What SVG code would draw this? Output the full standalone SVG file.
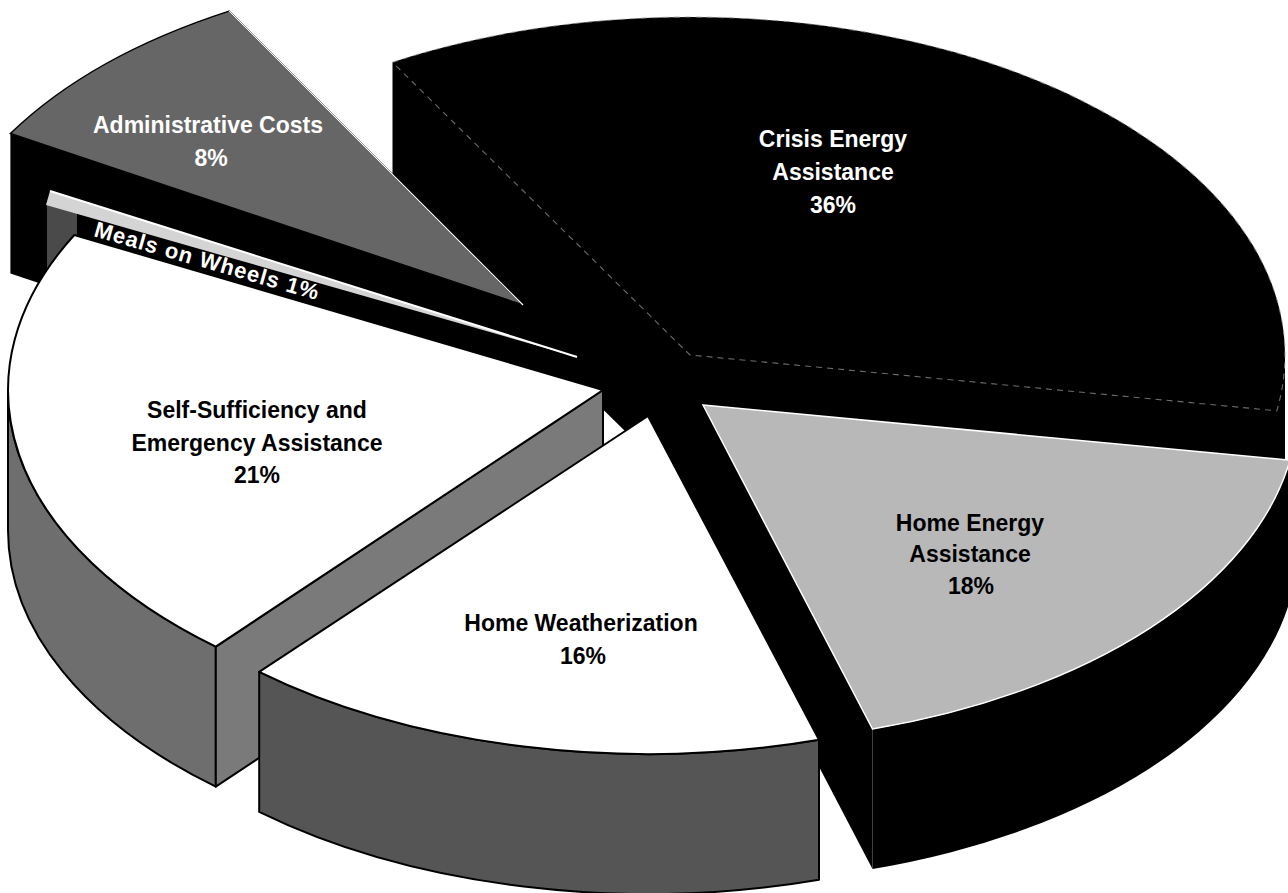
<svg xmlns="http://www.w3.org/2000/svg" width="1288" height="893" viewBox="0 0 1288 893">
<style>
.lbl{font-family:"Liberation Sans",Arial,Helvetica,sans-serif;font-weight:bold;font-size:23px;text-anchor:middle}
.w{fill:#fff}
.k{fill:#000}
.blk{fill:#000}
.edge{stroke:#000;stroke-width:2;stroke-linejoin:round}
</style>
<rect width="1288" height="893" fill="#fff"/>
<g id="slice-crisis">
<path class="blk" d="M392.5,62.3 A595,338 0 0 1 1285,355 L1285,495 A595,338 0 0 1 1276.8,550.8 L703,545 L690,495 L392.5,202.3 Z"/>
<path class="blk" d="M500,290 L690,350 L705,412 L640,420 L577,362 L520,352 Z"/>
<path d="M392.5,62.3 A595,338 0 0 1 1276.8,410.8 L690,355 Z" fill="none" stroke="#9a9a9a" stroke-width="1.1" stroke-dasharray="6 5" opacity="0.7"/>
<text class="lbl w" x="833" y="147">Crisis Energy</text>
<text class="lbl w" x="833" y="180">Assistance</text>
<text class="lbl w" x="833" y="213">36%</text>
</g>
<g id="slice-admin">
<path class="blk" d="M10.4,133.5 L523,305 L523,445 L10.4,273.5 Z"/>
<path fill="#666" stroke="#000" stroke-width="1.5" d="M523,305 L10.4,133.5 A595,338 0 0 1 229.1,11.1 Z"/>
<line x1="229.1" y1="11.1" x2="523" y2="305" stroke="#fff" stroke-width="1.2"/>
<text class="lbl w" x="208" y="133">Administrative Costs</text>
<text class="lbl w" x="211" y="166">8%</text>
</g>
<g id="slice-meals">
<path class="blk" d="M46,205 L577,358 L577,498 L46,345 Z"/>
<path fill="#4a4a4a" d="M47,203 L77,212 L77,300 L47,300 Z"/>
<path fill="#d4d4d4" d="M50,191 L577,357 L46,205 Z"/>
<line x1="50" y1="191" x2="577" y2="357" stroke="#fff" stroke-width="2"/>
<text class="lbl w" style="text-anchor:start;font-size:22px;letter-spacing:1px" transform="translate(93,236) rotate(16)">Meals on Wheels 1%</text>
</g>
<g id="slice-selfsufficiency">
<path fill="#6e6e6e" class="edge" d="M8,390 A595,338 0 0 0 215.8,646.6 L215.8,786.6 A595,338 0 0 1 8,530 Z"/>
<path fill="#7a7a7a" class="edge" d="M215.8,646.6 L603,390 L603,530 L215.8,786.6 Z"/>
<path fill="#fff" class="edge" d="M603,390 L74.3,235 A595,338 0 0 0 215.8,646.6 Z"/>
<text class="lbl k" x="257" y="418">Self-Sufficiency and</text>
<text class="lbl k" x="257" y="451">Emergency Assistance</text>
<text class="lbl k" x="257" y="483">21%</text>
</g>
<g id="slice-homeenergy">
<path class="blk" d="M703,405 L872.5,729 L872.5,869 L703,545 Z"/>
<path class="blk" d="M1290,460.2 A595,338 0 0 1 872.5,729 L872.5,869 A595,338 0 0 0 1290,600.2 Z"/>
<path fill="#b8b8b8" stroke="#fff" stroke-width="1.5" d="M703,405 L1290,460.2 A595,338 0 0 1 872.5,729 Z"/>
<text class="lbl k" x="970" y="531">Home Energy</text>
<text class="lbl k" x="970" y="562">Assistance</text>
<text class="lbl k" x="971" y="594">18%</text>
</g>
<g id="slice-weatherization">
<path fill="#555" class="edge" d="M819,739.7 A595,338 0 0 1 259.2,671.9 L259.2,811.9 A595,338 0 0 0 819,879.7 Z"/>
<path fill="#fff" class="edge" d="M648,416 L819,739.7 A595,338 0 0 1 259.2,671.9 Z"/>
<text class="lbl k" x="581" y="631">Home Weatherization</text>
<text class="lbl k" x="583" y="664">16%</text>
</g>
<g id="connectors"/>
</svg>
